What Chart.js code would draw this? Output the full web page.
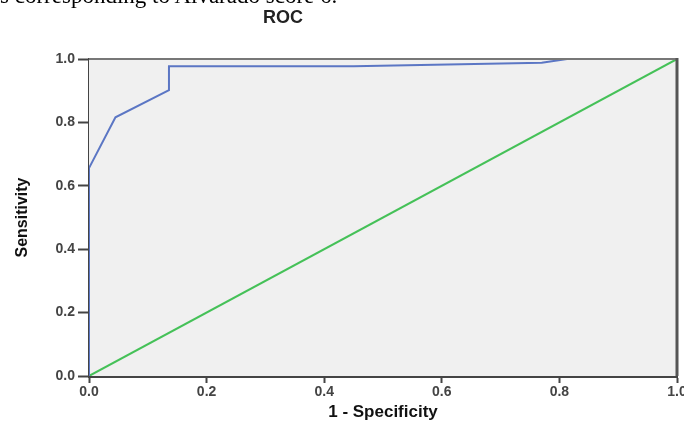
<!DOCTYPE html>
<html>
<head>
<meta charset="utf-8">
<script src="https://cdn.jsdelivr.net/npm/chart.js@4.4.0/dist/chart.umd.min.js"></script>
<style>
    html, body { margin: 0; padding: 0; background: #fff; overflow: hidden; }
    body { width: 684px; height: 426px; position: relative; }
    #wrap { position: absolute; left: 0; top: 0; width: 700px; height: 426px; }
    #doc-line {
        position: absolute; left: 0; top: -17px; white-space: nowrap;
        font-family: "Liberation Serif", "DejaVu Serif", serif; font-size: 23px; color: #000;
    }
</style>
</head>
<body>
<div id="wrap"><canvas id="chart-roc" width="700" height="426"></canvas></div>
<div id="doc-line">s corresponding to Alvarado score 6.</div>
<script>
// ROC curve points (1 - specificity, sensitivity)
const rocFpr = [0, 0, 0.045, 0.136, 0.136, 0.45, 0.77, 0.813, 1];
const rocTpr = [0, 0.656, 0.816, 0.902, 0.977, 0.977, 0.988, 1, 1];

// reference (chance) line
const refFpr = [0, 1];
const refTpr = [0, 1];

const axisTicks = [0, 0.2, 0.4, 0.6, 0.8, 1.0];

function toPoints(xs, ys) {
    return xs.map(function(x, i) { return { x: x, y: ys[i] }; });
}

// grey plot background + frame, and the title off to the left
const framePlugin = {
    id: 'frame',
    beforeDatasetsDraw: function(chart) {
        const a = chart.chartArea;
        const c = chart.ctx;
        c.save();
        c.fillStyle = '#f0f0f0';
        c.fillRect(a.left, a.top, a.right - a.left, a.bottom - a.top);
        c.restore();
    },
    afterDraw: function(chart) {
        const a = chart.chartArea;
        const c = chart.ctx;
        c.save();
        c.strokeStyle = '#777';
        c.lineWidth = 2;
        c.beginPath();
        c.moveTo(a.left, a.top);
        c.lineTo(a.right, a.top);
        c.stroke();
        c.strokeStyle = '#555';
        c.lineWidth = 3;
        c.beginPath();
        c.moveTo(a.right, a.top - 1);
        c.lineTo(a.right, a.bottom);
        c.stroke();
        c.fillStyle = '#222';
        c.font = 'bold 18px "Liberation Sans", Arial, sans-serif';
        c.textAlign = 'center';
        c.textBaseline = 'middle';
        c.fillText('ROC', 283, 18);
        c.restore();
    }
};

document.addEventListener('DOMContentLoaded', function() {
    const ctx = document.getElementById('chart-roc').getContext('2d');

    new Chart(ctx, {
        type: 'scatter',
        data: {
            datasets: [{
                label: 'ROC',
                data: toPoints(rocFpr, rocTpr),
                showLine: true,
                borderColor: '#5b76c4',
                borderWidth: 2,
                pointRadius: 0,
                tension: 0
            }, {
                label: 'Reference',
                data: toPoints(refFpr, refTpr),
                showLine: true,
                borderColor: '#45c158',
                borderWidth: 2,
                pointRadius: 0
            }]
        },
        plugins: [framePlugin],
        options: {
            responsive: false,
            animation: false,
            layout: {
                padding: { top: 59, right: 23, left: 0, bottom: 0 }
            },
            plugins: {
                legend: { display: false },
                tooltip: { enabled: false }
            },
            scales: {
                x: {
                    type: 'linear',
                    min: 0,
                    max: 1,
                    afterBuildTicks: function(axis) {
                        axis.ticks = axisTicks.map(function(v) { return { value: v }; });
                    },
                    afterFit: function(axis) { axis.height = 50; },
                    grid: { drawOnChartArea: false, drawTicks: true, tickLength: 7, tickWidth: 2, tickColor: '#444' },
                    border: { display: true, color: '#444', width: 3 },
                    ticks: {
                        color: '#444',
                        padding: 1,
                        maxRotation: 0,
                        font: { family: '"Liberation Sans", Arial, sans-serif', size: 14, weight: 'bold' },
                        callback: function(v) { return v.toFixed(1); }
                    },
                    title: {
                        display: true,
                        text: '1 - Specificity',
                        color: '#111',
                        padding: { top: 0, bottom: 3 },
                        font: { family: '"Liberation Sans", Arial, sans-serif', size: 17, weight: 'bold' }
                    }
                },
                y: {
                    type: 'linear',
                    min: 0,
                    max: 1,
                    afterBuildTicks: function(axis) {
                        axis.ticks = axisTicks.map(function(v) { return { value: v }; });
                    },
                    afterFit: function(axis) { axis.width = 89; },
                    grid: { drawOnChartArea: false, drawTicks: true, tickLength: 11, tickWidth: 2, tickColor: '#444' },
                    border: { display: true, color: '#444', width: 3 },
                    ticks: {
                        color: '#444',
                        padding: 3,
                        font: { family: '"Liberation Sans", Arial, sans-serif', size: 14, weight: 'bold' },
                        callback: function(v) { return v.toFixed(1); }
                    },
                    title: {
                        display: true,
                        text: 'Sensitivity',
                        color: '#111',
                        padding: { top: 13, bottom: 0 },
                        font: { family: '"Liberation Sans Narrow", "Liberation Sans", Arial, sans-serif', size: 16, weight: 'bold' }
                    }
                }
            }
        }
    });
});
</script>
</body>
</html>
